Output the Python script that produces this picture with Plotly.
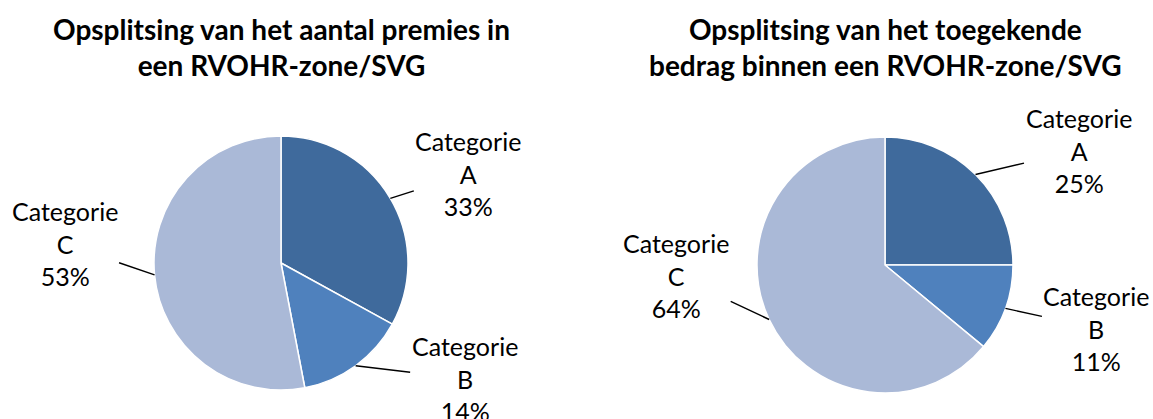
import math
import plotly.graph_objects as go

# ---- data ----
categories = ["Categorie A", "Categorie B", "Categorie C"]
aantal_values = [33, 14, 53]
bedrag_values = [25, 11, 64]
chart_titles = [
    "Opsplitsing van het aantal premies in<br>een RVOHR-zone/SVG",
    "Opsplitsing van het toegekende<br>bedrag binnen een RVOHR-zone/SVG",
]

# ---- style / layout ----
colors = ["#3F6A9C", "#4F81BD", "#AAB9D7"]
W, H = 1153, 419
FONT = "Lato"
pies = [
    dict(cx=281, cy=263, r=127, values=aantal_values, title=chart_titles[0],
         label_offsets=[(78, -25), (109, 13), (-90, -31)]),
    dict(cx=885, cy=265, r=128, values=bedrag_values, title=chart_titles[1],
         label_offsets=[(103, -24), (91, 20), (-93, -44)]),
]

fig = go.Figure()
annotations = []
for p in pies:
    cx, cy, r = p["cx"], p["cy"], p["r"]
    dom_x = [(cx - r) / W, (cx + r) / W]
    dom_y = [(H - cy - r) / H, (H - cy + r) / H]
    fig.add_trace(go.Pie(
        labels=categories, values=p["values"], sort=False, direction="clockwise",
        rotation=0, textinfo="none", hoverinfo="label+percent",
        marker=dict(colors=colors, line=dict(color="white", width=1.5)),
        domain=dict(x=dom_x, y=dom_y), showlegend=False,
    ))
    total = sum(p["values"])
    cum = 0
    for cat, v, (dx, dy) in zip(categories, p["values"], p["label_offsets"]):
        mid = (cum + v / 2) / total * 2 * math.pi
        cum += v
        hx = cx + r * math.sin(mid)
        hy = cy - r * math.cos(mid)
        pct = round(v / total * 100)
        name, letter = cat.split(" ")
        annotations.append(dict(
            x=hx / W, y=1 - hy / H, xref="paper", yref="paper",
            ax=dx, ay=dy, text=f"{name}<br>{letter}<br>{pct}%",
            showarrow=True, arrowhead=0, arrowwidth=1.4, arrowcolor="black",
            standoff=0, startstandoff=0,
            font=dict(family=FONT, size=25, color="black"), align="center",
        ))
    annotations.append(dict(
        x=cx / W, y=1 - 47 / H, xref="paper", yref="paper",
        xanchor="center", yanchor="middle", showarrow=False,
        text=f"<b>{p['title']}</b>", align="center",
        font=dict(family=FONT, size=28, color="black"),
    ))

fig.update_layout(
    width=W, height=H, margin=dict(l=0, r=0, t=0, b=0),
    paper_bgcolor="white", plot_bgcolor="white",
    annotations=annotations,
)
fig.write_html("out.html", config={"displayModeBar": False},
               post_script="document.body.style.margin='0';")
